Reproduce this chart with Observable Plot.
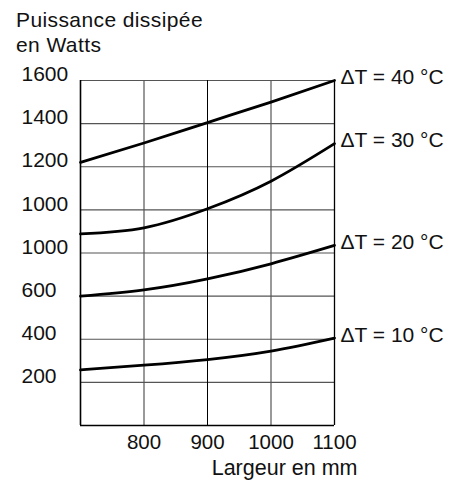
<!DOCTYPE html>
<html>
<head>
<meta charset="utf-8">
<script src="https://cdn.jsdelivr.net/npm/d3@7"></script>
<script src="https://cdn.jsdelivr.net/npm/@observablehq/plot@0.6"></script>
<style>
  body { margin: 0; background: #fff; font-family: "Liberation Sans", Arial, sans-serif; }
  #wrap { position: relative; width: 455px; height: 485px; }
  #title { position: absolute; left: 16px; top: 7px; font-size: 21px; letter-spacing: 0.4px; line-height: 25px; color: #111; }
</style>
</head>
<body>
<div id="wrap">
  <div id="title">Puissance dissipée<br>en Watts</div>
</div>
<script>
const widths = [700, 800, 900, 1000, 1100];
const p10 = [258, 280, 306, 345, 405];
const p20 = [600, 629, 680, 750, 835];
const p30 = [889, 917, 1005, 1133, 1307];
const p40 = [1220, 1310, 1405, 1500, 1600];
const seriesNames = ["ΔT = 10 °C", "ΔT = 20 °C", "ΔT = 30 °C", "ΔT = 40 °C"];
const seriesValues = [p10, p20, p30, p40];

const yGrid = [0, 200, 400, 600, 800, 1000, 1200, 1400, 1600];
const yTickValues = [1600, 1400, 1200, 1000, 800, 600, 400, 200];
const yTickLabels = ["1600", "1400", "1200", "1000", "1000", "600", "400", "200"];
const xGrid = [800, 1000];
const xTicks = [800, 900, 1000, 1100];

const rows = seriesNames.flatMap((name, i) =>
  widths.map((w, j) => ({ name, w, p: seriesValues[i][j] })));
const ends = seriesNames.map((name, i) => ({ name, w: widths[widths.length - 1], p: seriesValues[i][widths.length - 1] }));
const yTicksData = yTickValues.map((v, i) => ({ v, label: yTickLabels[i] }));

const chart = Plot.plot({
  width: 455,
  height: 485,
  marginTop: 80,
  marginLeft: 80,
  marginRight: 121,
  marginBottom: 60,
  style: { fontFamily: "Liberation Sans, Arial, sans-serif", fontSize: "20px", color: "#111", background: "transparent", overflow: "visible" },
  x: { domain: [700, 1100], axis: null },
  y: { domain: [0, 1600], axis: null },
  marks: [
    Plot.ruleY(yGrid.filter(v => v > 0), { stroke: "#555", strokeWidth: 1.2 }),
    Plot.ruleX(xGrid, { stroke: "#555", strokeWidth: 1.2 }),
    Plot.ruleX([900], { stroke: "#000", strokeWidth: 1 }),
    Plot.ruleX([1100], { stroke: "#000", strokeWidth: 1.3 }),
    Plot.ruleX([700], { stroke: "#000", strokeWidth: 1.6 }),
    Plot.ruleY([0], { stroke: "#000", strokeWidth: 1.6 }),
    Plot.line(rows, { x: "w", y: "p", z: "name", curve: "natural", stroke: "#000", strokeWidth: 2.8 }),
    Plot.text(ends, { x: "w", y: "p", text: "name", textAnchor: "start", dx: 6, dy: -3, fontSize: 21, fill: "#111" }),
    Plot.text(yTicksData, { y: "v", text: "label", frameAnchor: "left", dx: -59, dy: -6, textAnchor: "start", fontSize: 21, fill: "#111" }),
    Plot.text(xTicks, { x: d => d, text: d => String(d), frameAnchor: "bottom", dy: 17, lineAnchor: "middle", fontSize: 20.5, fill: "#111" }),
    Plot.text(["Largeur en mm"], { frameAnchor: "bottom-right", dx: 23, dy: 43, textAnchor: "end", lineAnchor: "middle", fontSize: 21.5, fill: "#111" })
  ]
});
document.getElementById("wrap").appendChild(chart);
chart.style.position = "absolute";
chart.style.left = "0";
chart.style.top = "0";
</script>
</body>
</html>
